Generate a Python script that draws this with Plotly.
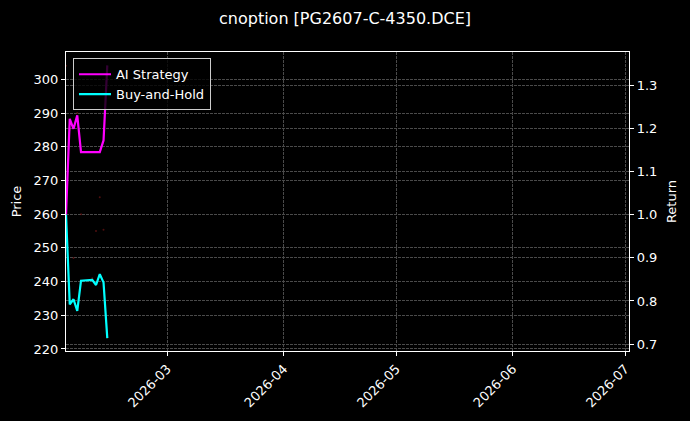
import plotly.graph_objects as go

# trading days shown on the chart (before the CNY break)
dates = ["2026-02-02", "2026-02-03", "2026-02-04", "2026-02-05", "2026-02-06",
         "2026-02-09", "2026-02-10", "2026-02-11", "2026-02-12", "2026-02-13"]

# option price (left axis), barely visible faint dots
price = [304.0, 285.0, 247.0, 290.0, 260.0, 241.0, 255.0, 265.0, 255.4, 223.4]

# cumulative returns (right axis)
ai_strategy = [1.0, 1.222, 1.199, 1.230, 1.145, 1.145, 1.145, 1.145, 1.172, 1.346]
buy_hold = [1.0, 0.792, 0.804, 0.777, 0.847, 0.849, 0.837, 0.862, 0.843, 0.714]

month_ticks = ["2026-03-01", "2026-04-01", "2026-05-01", "2026-06-01", "2026-07-01"]
month_labels = ["2026-03", "2026-04", "2026-05", "2026-06", "2026-07"]

font = dict(family="DejaVu Sans", color="white", size=13)
grid = "#4a4a4a"
dash = "2.5px,1.5px"

fig = go.Figure()

fig.add_trace(go.Scatter(x=dates, y=price, mode="markers", name="Price",
                         marker=dict(color="rgba(130,25,25,0.6)", size=2),
                         showlegend=False, yaxis="y"))
fig.add_trace(go.Scatter(x=dates, y=ai_strategy, mode="lines", name="AI Strategy",
                         line=dict(color="#ff00ff", width=2.2), yaxis="y2"))
fig.add_trace(go.Scatter(x=dates, y=buy_hold, mode="lines", name="Buy-and-Hold",
                         line=dict(color="#00ffff", width=2.2), yaxis="y2"))

axis_style = dict(showline=True, linecolor="white", linewidth=1.2,
                  ticks="outside", ticklen=4, tickcolor="white",
                  showgrid=True, gridcolor=grid, gridwidth=0.8, griddash=dash,
                  zeroline=False, tickfont=dict(size=13))

fig.update_layout(
    width=690, height=421,
    paper_bgcolor="black", plot_bgcolor="black",
    font=font,
    margin=dict(l=66, r=61, t=52, b=70),
    title=dict(text="cnoption [PG2607-C-4350.DCE]", x=0.5, xanchor="center",
               y=1 - 18 / 421, yanchor="middle", font=dict(size=16, color="white")),
    xaxis=dict(range=["2026-02-02", "2026-07-02"], tickvals=month_ticks,
               ticktext=month_labels, tickangle=-45, mirror=True, **axis_style),
    yaxis=dict(title=dict(text="Price", standoff=8, font=dict(size=13)),
               range=[219.4, 308.1],
               tickvals=[220, 230, 240, 250, 260, 270, 280, 290, 300],
               **axis_style),
    yaxis2=dict(title=dict(text="Return", standoff=10, font=dict(size=13)),
                range=[0.684, 1.377], overlaying="y", side="right",
                tickvals=[0.7, 0.8, 0.9, 1.0, 1.1, 1.2, 1.3],
                ticktext=["0.7", "0.8", "0.9", "1.0", "1.1", "1.2", "1.3"],
                **axis_style),
    legend=dict(x=0.0124, y=0.979, xanchor="left", yanchor="top",
                bgcolor="rgba(0,0,0,0.8)", bordercolor="#cccccc", borderwidth=1,
                itemwidth=32, font=dict(size=13, color="white")),
)

# the page body has a white 8px margin by default; drop it so the figure sits at 0,0
fig.write_html("out.html", config={"displayModeBar": False},
               post_script="document.body.style.margin='0';"
                           "document.body.style.background='black';")
